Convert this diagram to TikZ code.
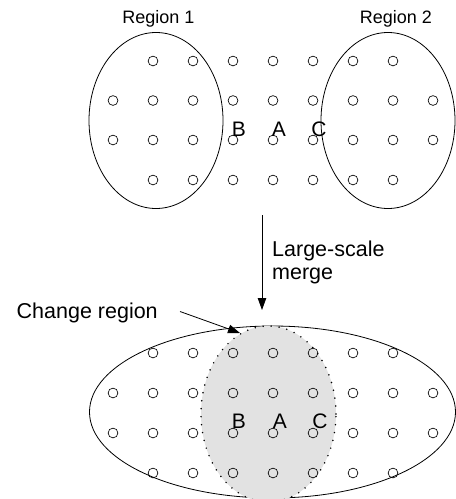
\documentclass[tikz,border=0pt]{standalone}
\usepackage{fontspec}
\setmainfont{Liberation Sans}
\usetikzlibrary{arrows.meta,shapes.geometric}
\definecolor{changefill}{RGB}{226,226,226}
\begin{document}
\begin{tikzpicture}[x=1pt,y=-1pt,
  site/.style={circle,draw,line width=0.65pt,minimum size=9.8pt,inner sep=0pt},
  area/.style={ellipse,draw,line width=0.8pt,inner sep=0pt},
  changearea/.style={ellipse,fill=changefill,draw,line width=1.7pt,
    line cap=round,dash pattern=on 0pt off 8pt,inner sep=0pt},
  toplabel/.style={inner sep=0pt,anchor=base,font=\fontsize{18}{20}\selectfont},
  sidelabel/.style={inner sep=0pt,anchor=base west,font=\fontsize{21.5}{23}\selectfont},
  letter/.style={inner sep=0pt,anchor=center,font=\fontsize{21}{23}\selectfont},
  pointer/.style={line width=0.8pt,-{Triangle[length=12pt,width=8.5pt]}}]
\useasboundingbox (0,0) rectangle (456,499);

% ---- before the merge: two regions over the site grid ----
\node[area,minimum width=134pt,minimum height=176pt] (reg1) at (156,120.5) {};
\node[area,minimum width=134pt,minimum height=176pt] (reg2) at (388,120.5) {};
\node[toplabel] (reg1lbl) at (158.5,23) {Region 1};
\node[toplabel] (reg2lbl) at (396,23) {Region 2};

\foreach \r/\y in {1/61,4/180} \foreach \k in {1,...,7}
  \node[site] (t\r-\k) at (113+40*\k,\y) {};
\foreach \r/\y in {2/100.5,3/140} \foreach \k in {0,...,8}
  \node[site] (t\r-\k) at (113+40*\k,\y) {};

\node[letter] (tB) at (239,129.5) {B};
\node[letter] (tA) at (279,129.5) {A};
\node[letter] (tC) at (319,129.5) {C};

% ---- merge step ----
\coordinate (m0) at (262,215);
\coordinate (m1) at (262,310);
\draw[pointer] (m0) -- (m1);
\node[sidelabel] (mlbl1) at (272,256.7) {Large-scale};
\node[sidelabel] (mlbl2) at (272,279) {merge};

% ---- after the merge: one region with the change region inside ----
\node[area,minimum width=366pt,minimum height=172pt] (merged) at (272.5,412) {};
\node[changearea,minimum width=135pt,minimum height=176pt] (change) at (268.5,414) {};

\foreach \r/\y in {1/353,4/473} \foreach \k in {1,...,7}
  \node[site] (b\r-\k) at (113+40*\k,\y) {};
\foreach \r/\y in {2/393,3/433} \foreach \k in {0,...,8}
  \node[site] (b\r-\k) at (113+40*\k,\y) {};

\node[letter] (bB) at (239,421.7) {B};
\node[letter] (bA) at (280,421.7) {A};
\node[letter] (bC) at (320,421.7) {C};

\node[sidelabel] (clbl) at (16.5,318) {Change region};
\coordinate (c0) at (180,311.5);
\coordinate (c1) at (240,333);
\draw[pointer] (c0) -- (c1);
\end{tikzpicture}
\end{document}
